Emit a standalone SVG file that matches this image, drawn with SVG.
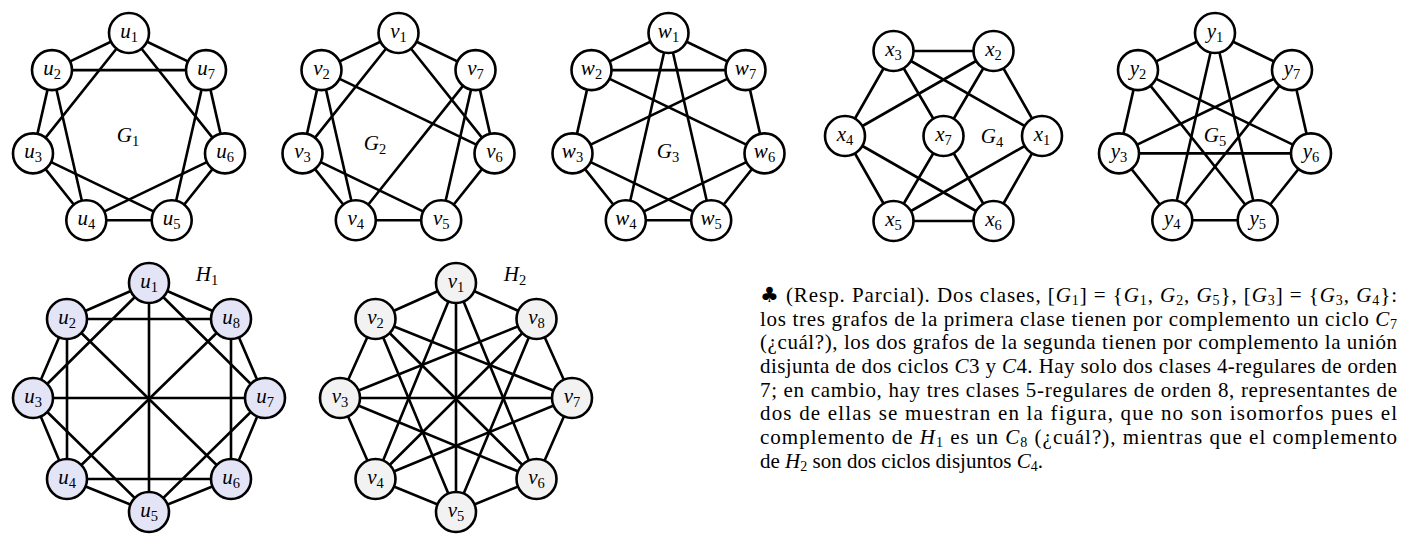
<svg xmlns="http://www.w3.org/2000/svg" width="1403" height="534" viewBox="0 0 1403 534">
<style>
  .e line { stroke: #000; stroke-width: 2.6; stroke-linecap: round; }
  .n circle { fill: #fff; stroke: #000; stroke-width: 2.6; }
  .h1 circle { fill: #e4e4f7; }
  .h2 circle { fill: #f2f2f2; }
  text { font-family: "Liberation Serif", "DejaVu Serif", serif; fill: #000; }
  .lab { font-size: 21px; font-style: italic; text-anchor: middle; }
  .sub { font-size: 14.5px; font-style: normal; }
  .gl { font-size: 21px; font-style: italic; text-anchor: middle; }
  .p { font-size: 21px; }
  .m { font-style: italic; }
  .s { font-size: 14px; }
  .club { font-family: "DejaVu Sans", sans-serif; }
</style>
<rect width="1403" height="534" fill="#fff"/>

<!-- ============ G1 ============ -->
<g id="G1">
  <g id="G1-edges" class="e">
    <line x1="129" y1="33" x2="52" y2="70.1"/>
    <line x1="129" y1="33" x2="206" y2="70.1"/>
    <line x1="52" y1="70.1" x2="206" y2="70.1"/>
    <line x1="129" y1="33" x2="33" y2="153.4"/>
    <line x1="129" y1="33" x2="225" y2="153.4"/>
    <line x1="52" y1="70.1" x2="33" y2="153.4"/>
    <line x1="52" y1="70.1" x2="86.3" y2="220.2"/>
    <line x1="206" y1="70.1" x2="225" y2="153.4"/>
    <line x1="206" y1="70.1" x2="171.7" y2="220.2"/>
    <line x1="33" y1="153.4" x2="86.3" y2="220.2"/>
    <line x1="33" y1="153.4" x2="171.7" y2="220.2"/>
    <line x1="225" y1="153.4" x2="86.3" y2="220.2"/>
    <line x1="225" y1="153.4" x2="171.7" y2="220.2"/>
    <line x1="86.3" y1="220.2" x2="171.7" y2="220.2"/>
  </g>
  <g id="G1-u1" class="n"><circle cx="129" cy="33" r="20"/><text class="lab" x="129" y="38">u<tspan class="sub" dy="4">1</tspan></text></g>
  <g id="G1-u2" class="n"><circle cx="52" cy="70.1" r="20"/><text class="lab" x="52" y="75.1">u<tspan class="sub" dy="4">2</tspan></text></g>
  <g id="G1-u3" class="n"><circle cx="33" cy="153.4" r="20"/><text class="lab" x="33" y="158.4">u<tspan class="sub" dy="4">3</tspan></text></g>
  <g id="G1-u4" class="n"><circle cx="86.3" cy="220.2" r="20"/><text class="lab" x="86.3" y="225.2">u<tspan class="sub" dy="4">4</tspan></text></g>
  <g id="G1-u5" class="n"><circle cx="171.7" cy="220.2" r="20"/><text class="lab" x="171.7" y="225.2">u<tspan class="sub" dy="4">5</tspan></text></g>
  <g id="G1-u6" class="n"><circle cx="225" cy="153.4" r="20"/><text class="lab" x="225" y="158.4">u<tspan class="sub" dy="4">6</tspan></text></g>
  <g id="G1-u7" class="n"><circle cx="206" cy="70.1" r="20"/><text class="lab" x="206" y="75.1">u<tspan class="sub" dy="4">7</tspan></text></g>
  <text id="G1-label" class="gl" x="128" y="142">G<tspan class="sub" dy="4">1</tspan></text>
</g>

<!-- ============ G2 ============ -->
<g id="G2">
  <g id="G2-edges" class="e">
    <line x1="398.5" y1="33" x2="321.5" y2="70.1"/>
    <line x1="398.5" y1="33" x2="475.5" y2="70.1"/>
    <line x1="398.5" y1="33" x2="302.5" y2="153.4"/>
    <line x1="398.5" y1="33" x2="494.5" y2="153.4"/>
    <line x1="321.5" y1="70.1" x2="302.5" y2="153.4"/>
    <line x1="321.5" y1="70.1" x2="355.8" y2="220.2"/>
    <line x1="321.5" y1="70.1" x2="494.5" y2="153.4"/>
    <line x1="475.5" y1="70.1" x2="355.8" y2="220.2"/>
    <line x1="475.5" y1="70.1" x2="441.2" y2="220.2"/>
    <line x1="475.5" y1="70.1" x2="494.5" y2="153.4"/>
    <line x1="302.5" y1="153.4" x2="355.8" y2="220.2"/>
    <line x1="302.5" y1="153.4" x2="441.2" y2="220.2"/>
    <line x1="355.8" y1="220.2" x2="441.2" y2="220.2"/>
    <line x1="494.5" y1="153.4" x2="441.2" y2="220.2"/>
  </g>
  <g id="G2-v1" class="n"><circle cx="398.5" cy="33" r="20"/><text class="lab" x="398.5" y="38">v<tspan class="sub" dy="4">1</tspan></text></g>
  <g id="G2-v2" class="n"><circle cx="321.5" cy="70.1" r="20"/><text class="lab" x="321.5" y="75.1">v<tspan class="sub" dy="4">2</tspan></text></g>
  <g id="G2-v3" class="n"><circle cx="302.5" cy="153.4" r="20"/><text class="lab" x="302.5" y="158.4">v<tspan class="sub" dy="4">3</tspan></text></g>
  <g id="G2-v4" class="n"><circle cx="355.8" cy="220.2" r="20"/><text class="lab" x="355.8" y="225.2">v<tspan class="sub" dy="4">4</tspan></text></g>
  <g id="G2-v5" class="n"><circle cx="441.2" cy="220.2" r="20"/><text class="lab" x="441.2" y="225.2">v<tspan class="sub" dy="4">5</tspan></text></g>
  <g id="G2-v6" class="n"><circle cx="494.5" cy="153.4" r="20"/><text class="lab" x="494.5" y="158.4">v<tspan class="sub" dy="4">6</tspan></text></g>
  <g id="G2-v7" class="n"><circle cx="475.5" cy="70.1" r="20"/><text class="lab" x="475.5" y="75.1">v<tspan class="sub" dy="4">7</tspan></text></g>
  <text id="G2-label" class="gl" x="375" y="150">G<tspan class="sub" dy="4">2</tspan></text>
</g>

<!-- ============ G3 ============ -->
<g id="G3">
  <g id="G3-edges" class="e">
    <line x1="668.5" y1="33" x2="591.5" y2="70.1"/>
    <line x1="668.5" y1="33" x2="745.5" y2="70.1"/>
    <line x1="668.5" y1="33" x2="625.8" y2="220.2"/>
    <line x1="668.5" y1="33" x2="711.2" y2="220.2"/>
    <line x1="591.5" y1="70.1" x2="745.5" y2="70.1"/>
    <line x1="591.5" y1="70.1" x2="572.5" y2="153.4"/>
    <line x1="591.5" y1="70.1" x2="764.5" y2="153.4"/>
    <line x1="745.5" y1="70.1" x2="572.5" y2="153.4"/>
    <line x1="745.5" y1="70.1" x2="764.5" y2="153.4"/>
    <line x1="572.5" y1="153.4" x2="625.8" y2="220.2"/>
    <line x1="572.5" y1="153.4" x2="711.2" y2="220.2"/>
    <line x1="764.5" y1="153.4" x2="625.8" y2="220.2"/>
    <line x1="764.5" y1="153.4" x2="711.2" y2="220.2"/>
    <line x1="625.8" y1="220.2" x2="711.2" y2="220.2"/>
  </g>
  <g id="G3-w1" class="n"><circle cx="668.5" cy="33" r="20"/><text class="lab" x="668.5" y="38">w<tspan class="sub" dy="4">1</tspan></text></g>
  <g id="G3-w2" class="n"><circle cx="591.5" cy="70.1" r="20"/><text class="lab" x="591.5" y="75.1">w<tspan class="sub" dy="4">2</tspan></text></g>
  <g id="G3-w3" class="n"><circle cx="572.5" cy="153.4" r="20"/><text class="lab" x="572.5" y="158.4">w<tspan class="sub" dy="4">3</tspan></text></g>
  <g id="G3-w4" class="n"><circle cx="625.8" cy="220.2" r="20"/><text class="lab" x="625.8" y="225.2">w<tspan class="sub" dy="4">4</tspan></text></g>
  <g id="G3-w5" class="n"><circle cx="711.2" cy="220.2" r="20"/><text class="lab" x="711.2" y="225.2">w<tspan class="sub" dy="4">5</tspan></text></g>
  <g id="G3-w6" class="n"><circle cx="764.5" cy="153.4" r="20"/><text class="lab" x="764.5" y="158.4">w<tspan class="sub" dy="4">6</tspan></text></g>
  <g id="G3-w7" class="n"><circle cx="745.5" cy="70.1" r="20"/><text class="lab" x="745.5" y="75.1">w<tspan class="sub" dy="4">7</tspan></text></g>
  <text id="G3-label" class="gl" x="668" y="158">G<tspan class="sub" dy="4">3</tspan></text>
</g>

<!-- ============ G4 ============ -->
<g id="G4">
  <g id="G4-edges" class="e">
    <line x1="893.5" y1="51" x2="993.5" y2="51"/>
    <line x1="893.5" y1="51" x2="845" y2="136"/>
    <line x1="893.5" y1="51" x2="943.5" y2="136"/>
    <line x1="893.5" y1="51" x2="1042" y2="136"/>
    <line x1="993.5" y1="51" x2="845" y2="136"/>
    <line x1="993.5" y1="51" x2="943.5" y2="136"/>
    <line x1="993.5" y1="51" x2="1042" y2="136"/>
    <line x1="845" y1="136" x2="893.5" y2="221"/>
    <line x1="845" y1="136" x2="993.5" y2="221"/>
    <line x1="943.5" y1="136" x2="893.5" y2="221"/>
    <line x1="943.5" y1="136" x2="993.5" y2="221"/>
    <line x1="1042" y1="136" x2="893.5" y2="221"/>
    <line x1="1042" y1="136" x2="993.5" y2="221"/>
    <line x1="893.5" y1="221" x2="993.5" y2="221"/>
  </g>
  <g id="G4-x1" class="n"><circle cx="1042" cy="136" r="20"/><text class="lab" x="1042" y="141">x<tspan class="sub" dy="4">1</tspan></text></g>
  <g id="G4-x2" class="n"><circle cx="993.5" cy="51" r="20"/><text class="lab" x="993.5" y="56">x<tspan class="sub" dy="4">2</tspan></text></g>
  <g id="G4-x3" class="n"><circle cx="893.5" cy="51" r="20"/><text class="lab" x="893.5" y="56">x<tspan class="sub" dy="4">3</tspan></text></g>
  <g id="G4-x4" class="n"><circle cx="845" cy="136" r="20"/><text class="lab" x="845" y="141">x<tspan class="sub" dy="4">4</tspan></text></g>
  <g id="G4-x5" class="n"><circle cx="893.5" cy="221" r="20"/><text class="lab" x="893.5" y="226">x<tspan class="sub" dy="4">5</tspan></text></g>
  <g id="G4-x6" class="n"><circle cx="993.5" cy="221" r="20"/><text class="lab" x="993.5" y="226">x<tspan class="sub" dy="4">6</tspan></text></g>
  <g id="G4-x7" class="n"><circle cx="943.5" cy="136" r="20"/><text class="lab" x="943.5" y="141">x<tspan class="sub" dy="4">7</tspan></text></g>
  <text id="G4-label" class="gl" x="992" y="143">G<tspan class="sub" dy="4">4</tspan></text>
</g>

<!-- ============ G5 ============ -->
<g id="G5">
  <g id="G5-edges" class="e">
    <line x1="1215" y1="33" x2="1138" y2="70.1"/>
    <line x1="1215" y1="33" x2="1292" y2="70.1"/>
    <line x1="1215" y1="33" x2="1172.3" y2="220.2"/>
    <line x1="1215" y1="33" x2="1257.7" y2="220.2"/>
    <line x1="1138" y1="70.1" x2="1119" y2="153.4"/>
    <line x1="1138" y1="70.1" x2="1311" y2="153.4"/>
    <line x1="1138" y1="70.1" x2="1257.7" y2="220.2"/>
    <line x1="1292" y1="70.1" x2="1119" y2="153.4"/>
    <line x1="1292" y1="70.1" x2="1172.3" y2="220.2"/>
    <line x1="1292" y1="70.1" x2="1311" y2="153.4"/>
    <line x1="1119" y1="153.4" x2="1311" y2="153.4"/>
    <line x1="1119" y1="153.4" x2="1172.3" y2="220.2"/>
    <line x1="1311" y1="153.4" x2="1257.7" y2="220.2"/>
    <line x1="1172.3" y1="220.2" x2="1257.7" y2="220.2"/>
  </g>
  <text id="G5-label" class="gl" x="1215" y="142">G<tspan class="sub" dy="4">5</tspan></text>
  <g id="G5-y1" class="n"><circle cx="1215" cy="33" r="20"/><text class="lab" x="1215" y="38">y<tspan class="sub" dy="4">1</tspan></text></g>
  <g id="G5-y2" class="n"><circle cx="1138" cy="70.1" r="20"/><text class="lab" x="1138" y="75.1">y<tspan class="sub" dy="4">2</tspan></text></g>
  <g id="G5-y3" class="n"><circle cx="1119" cy="153.4" r="20"/><text class="lab" x="1119" y="158.4">y<tspan class="sub" dy="4">3</tspan></text></g>
  <g id="G5-y4" class="n"><circle cx="1172.3" cy="220.2" r="20"/><text class="lab" x="1172.3" y="225.2">y<tspan class="sub" dy="4">4</tspan></text></g>
  <g id="G5-y5" class="n"><circle cx="1257.7" cy="220.2" r="20"/><text class="lab" x="1257.7" y="225.2">y<tspan class="sub" dy="4">5</tspan></text></g>
  <g id="G5-y6" class="n"><circle cx="1311" cy="153.4" r="20"/><text class="lab" x="1311" y="158.4">y<tspan class="sub" dy="4">6</tspan></text></g>
  <g id="G5-y7" class="n"><circle cx="1292" cy="70.1" r="20"/><text class="lab" x="1292" y="75.1">y<tspan class="sub" dy="4">7</tspan></text></g>
</g>

<!-- ============ H1 ============ -->
<g id="H1">
  <g id="H1-edges" class="e">
    <line x1="149" y1="283" x2="67" y2="319"/>
    <line x1="149" y1="283" x2="231" y2="319"/>
    <line x1="149" y1="283" x2="33" y2="398"/>
    <line x1="149" y1="283" x2="265" y2="398"/>
    <line x1="149" y1="283" x2="149" y2="512"/>
    <line x1="67" y1="319" x2="231" y2="319"/>
    <line x1="67" y1="319" x2="33" y2="398"/>
    <line x1="67" y1="319" x2="67" y2="479"/>
    <line x1="67" y1="319" x2="231" y2="479"/>
    <line x1="231" y1="319" x2="265" y2="398"/>
    <line x1="231" y1="319" x2="67" y2="479"/>
    <line x1="231" y1="319" x2="231" y2="479"/>
    <line x1="33" y1="398" x2="265" y2="398"/>
    <line x1="33" y1="398" x2="67" y2="479"/>
    <line x1="33" y1="398" x2="149" y2="512"/>
    <line x1="265" y1="398" x2="231" y2="479"/>
    <line x1="265" y1="398" x2="149" y2="512"/>
    <line x1="67" y1="479" x2="231" y2="479"/>
    <line x1="67" y1="479" x2="149" y2="512"/>
    <line x1="231" y1="479" x2="149" y2="512"/>
  </g>
  <g id="H1-u1" class="n h1"><circle cx="149" cy="283" r="20"/><text class="lab" x="149" y="288">u<tspan class="sub" dy="4">1</tspan></text></g>
  <g id="H1-u2" class="n h1"><circle cx="67" cy="319" r="20"/><text class="lab" x="67" y="324">u<tspan class="sub" dy="4">2</tspan></text></g>
  <g id="H1-u3" class="n h1"><circle cx="33" cy="398" r="20"/><text class="lab" x="33" y="403">u<tspan class="sub" dy="4">3</tspan></text></g>
  <g id="H1-u4" class="n h1"><circle cx="67" cy="479" r="20"/><text class="lab" x="67" y="484">u<tspan class="sub" dy="4">4</tspan></text></g>
  <g id="H1-u5" class="n h1"><circle cx="149" cy="512" r="20"/><text class="lab" x="149" y="517">u<tspan class="sub" dy="4">5</tspan></text></g>
  <g id="H1-u6" class="n h1"><circle cx="231" cy="479" r="20"/><text class="lab" x="231" y="484">u<tspan class="sub" dy="4">6</tspan></text></g>
  <g id="H1-u7" class="n h1"><circle cx="265" cy="398" r="20"/><text class="lab" x="265" y="403">u<tspan class="sub" dy="4">7</tspan></text></g>
  <g id="H1-u8" class="n h1"><circle cx="231" cy="319" r="20"/><text class="lab" x="231" y="324">u<tspan class="sub" dy="4">8</tspan></text></g>
  <text id="H1-label" class="gl" x="207" y="281">H<tspan class="sub" dy="4">1</tspan></text>
</g>

<!-- ============ H2 ============ -->
<g id="H2">
  <g id="H2-edges" class="e">
    <line x1="456" y1="283" x2="375.5" y2="319"/>
    <line x1="456" y1="283" x2="536.5" y2="319"/>
    <line x1="456" y1="283" x2="456" y2="512"/>
    <line x1="456" y1="283" x2="375.5" y2="479"/>
    <line x1="456" y1="283" x2="536.5" y2="479"/>
    <line x1="375.5" y1="319" x2="340" y2="398"/>
    <line x1="375.5" y1="319" x2="572" y2="398"/>
    <line x1="375.5" y1="319" x2="536.5" y2="479"/>
    <line x1="375.5" y1="319" x2="456" y2="512"/>
    <line x1="536.5" y1="319" x2="340" y2="398"/>
    <line x1="536.5" y1="319" x2="572" y2="398"/>
    <line x1="536.5" y1="319" x2="375.5" y2="479"/>
    <line x1="536.5" y1="319" x2="456" y2="512"/>
    <line x1="340" y1="398" x2="572" y2="398"/>
    <line x1="340" y1="398" x2="375.5" y2="479"/>
    <line x1="340" y1="398" x2="536.5" y2="479"/>
    <line x1="572" y1="398" x2="375.5" y2="479"/>
    <line x1="572" y1="398" x2="536.5" y2="479"/>
    <line x1="375.5" y1="479" x2="456" y2="512"/>
    <line x1="536.5" y1="479" x2="456" y2="512"/>
  </g>
  <g id="H2-v1" class="n h2"><circle cx="456" cy="283" r="20"/><text class="lab" x="456" y="288">v<tspan class="sub" dy="4">1</tspan></text></g>
  <g id="H2-v2" class="n h2"><circle cx="375.5" cy="319" r="20"/><text class="lab" x="375.5" y="324">v<tspan class="sub" dy="4">2</tspan></text></g>
  <g id="H2-v3" class="n h2"><circle cx="340" cy="398" r="20"/><text class="lab" x="340" y="403">v<tspan class="sub" dy="4">3</tspan></text></g>
  <g id="H2-v4" class="n h2"><circle cx="375.5" cy="479" r="20"/><text class="lab" x="375.5" y="484">v<tspan class="sub" dy="4">4</tspan></text></g>
  <g id="H2-v5" class="n h2"><circle cx="456" cy="512" r="20"/><text class="lab" x="456" y="517">v<tspan class="sub" dy="4">5</tspan></text></g>
  <g id="H2-v6" class="n h2"><circle cx="536.5" cy="479" r="20"/><text class="lab" x="536.5" y="484">v<tspan class="sub" dy="4">6</tspan></text></g>
  <g id="H2-v7" class="n h2"><circle cx="572" cy="398" r="20"/><text class="lab" x="572" y="403">v<tspan class="sub" dy="4">7</tspan></text></g>
  <g id="H2-v8" class="n h2"><circle cx="536.5" cy="319" r="20"/><text class="lab" x="536.5" y="324">v<tspan class="sub" dy="4">8</tspan></text></g>
  <text id="H2-label" class="gl" x="515" y="281">H<tspan class="sub" dy="4">2</tspan></text>
</g>

<!-- ============ Paragraph ============ -->
<g id="paragraph" class="p">
  <text x="760" y="302" textLength="637" lengthAdjust="spacing"><tspan class="club">♣</tspan> (Resp. Parcial). Dos clases, [<tspan class="m">G</tspan><tspan class="s" dy="3">1</tspan><tspan dy="-3">] = {</tspan><tspan class="m">G</tspan><tspan class="s" dy="3">1</tspan><tspan dy="-3">, </tspan><tspan class="m">G</tspan><tspan class="s" dy="3">2</tspan><tspan dy="-3">, </tspan><tspan class="m">G</tspan><tspan class="s" dy="3">5</tspan><tspan dy="-3">}, [</tspan><tspan class="m">G</tspan><tspan class="s" dy="3">3</tspan><tspan dy="-3">] = {</tspan><tspan class="m">G</tspan><tspan class="s" dy="3">3</tspan><tspan dy="-3">, </tspan><tspan class="m">G</tspan><tspan class="s" dy="3">4</tspan><tspan dy="-3">}:</tspan></text>
  <text x="760" y="326" textLength="637" lengthAdjust="spacing">los tres grafos de la primera clase tienen por complemento un ciclo <tspan class="m">C</tspan><tspan class="s" dy="3">7</tspan></text>
  <text x="760" y="349" textLength="637" lengthAdjust="spacing">(¿cuál?), los dos grafos de la segunda tienen por complemento la unión</text>
  <text x="760" y="373" textLength="637" lengthAdjust="spacing">disjunta de dos ciclos <tspan class="m">C</tspan>3 y <tspan class="m">C</tspan>4. Hay solo dos clases 4-regulares de orden</text>
  <text x="760" y="397" textLength="637" lengthAdjust="spacing">7; en cambio, hay tres clases 5-regulares de orden 8, representantes de</text>
  <text x="760" y="420" textLength="637" lengthAdjust="spacing">dos de ellas se muestran en la figura, que no son isomorfos pues el</text>
  <text x="760" y="444" textLength="637" lengthAdjust="spacing">complemento de <tspan class="m">H</tspan><tspan class="s" dy="3">1</tspan><tspan dy="-3"> es un </tspan><tspan class="m">C</tspan><tspan class="s" dy="3">8</tspan><tspan dy="-3"> (¿cuál?), mientras que el complemento</tspan></text>
  <text x="760" y="468">de <tspan class="m">H</tspan><tspan class="s" dy="3">2</tspan><tspan dy="-3"> son dos ciclos disjuntos </tspan><tspan class="m">C</tspan><tspan class="s" dy="3">4</tspan><tspan dy="-3">.</tspan></text>
</g>
</svg>
